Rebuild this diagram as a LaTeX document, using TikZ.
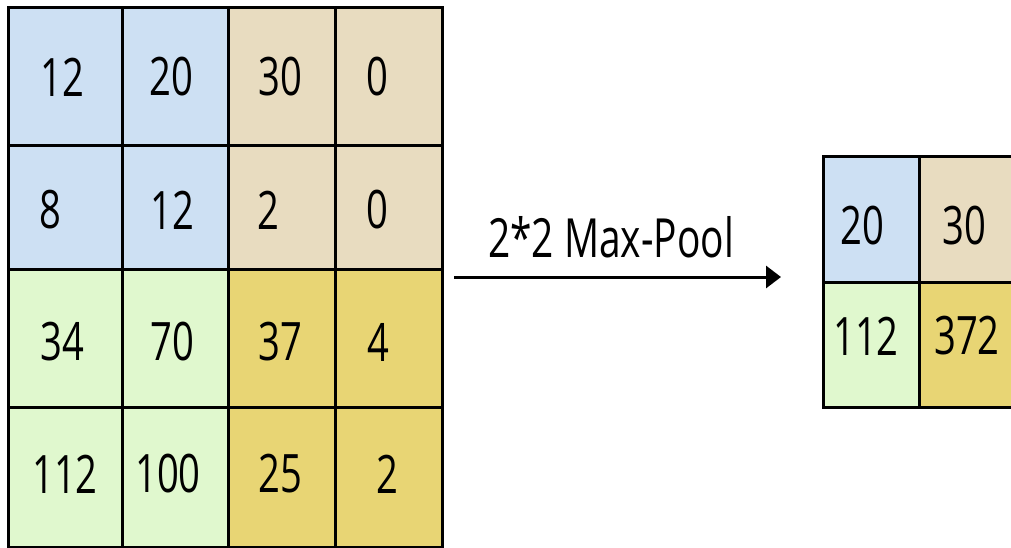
\documentclass[tikz,border=0pt]{standalone}
\usepackage{fontspec}
\setmainfont[FakeStretch=0.72]{Open Sans}
\usetikzlibrary{arrows.meta}

\definecolor{cellblue}{RGB}{205,224,243}
\definecolor{celltan}{RGB}{232,220,192}
\definecolor{cellgreen}{RGB}{224,248,206}
\definecolor{cellgold}{RGB}{232,213,116}

\begin{document}
\begin{tikzpicture}[x=1pt, y=-1pt, line width=3pt, line cap=rect,
	num/.style={inner sep=0pt, font=\fontsize{53}{60}\selectfont}] % pixel units, y downwards
	\useasboundingbox (0,0) rectangle (1011,548);

	% Input feature map, 4x4, four pooling windows
	\fill[cellblue] (8,8) rectangle (228,269);
	\fill[celltan] (228,8) rectangle (442,269);
	\fill[cellgreen] (8,269) rectangle (228,547);
	\fill[cellgold] (228,269) rectangle (442,547);
	\foreach \x in {8,122,228,335,442} \draw (\x,8) -- (\x,547);
	\foreach \y in {8,146,269,407,547} \draw (8,\y) -- (442,\y);

	% Input values
	\foreach \x/\y/\v/\n in {62/77/12/a11, 171/77/20/a12, 280/77/30/a13, 377/77/0/a14,
		50/210/8/a21, 172/210/12/a22, 268/210/2/a23, 377/210/0/a24,
		62/342/34/a31, 172/342/70/a32, 280/342/37/a33, 378/342/4/a34,
		65/474/112/a41, 168/474/100/a42, 280/474/25/a43, 387/474/2/a44}
		\node[num] (\n) at (\x,\y) {\v};

	% Pooling arrow and its label
	\coordinate (pstart) at (454,277);
	\coordinate (pend) at (781,277);
	\draw[line cap=butt, -{Triangle[length=15pt,width=22pt]}] (pstart) -- (pend);
	\node[num, font=\fontsize{54}{60}\selectfont] (pool) at (611,237.5) {2*2 Max-Pool};

	% Output feature map, 2x2 (cut off at the right edge)
	\fill[cellblue] (823,157) rectangle (919,282);
	\fill[celltan] (919,157) rectangle (1016,282);
	\fill[cellgreen] (823,282) rectangle (919,407);
	\fill[cellgold] (919,282) rectangle (1016,407);
	\foreach \x in {823,919,1016} \draw (\x,157) -- (\x,407);
	\foreach \y in {157,282,407} \draw (823,\y) -- (1016,\y);

	% Output values
	\node[num] (b11) at (862,226) {20};
	\node[num] (b12) at (964,226) {30};
	\node[num] (b21) at (866,336) {112};
	\node[num] (b22) at (967,336) {372};
\end{tikzpicture}
\end{document}
